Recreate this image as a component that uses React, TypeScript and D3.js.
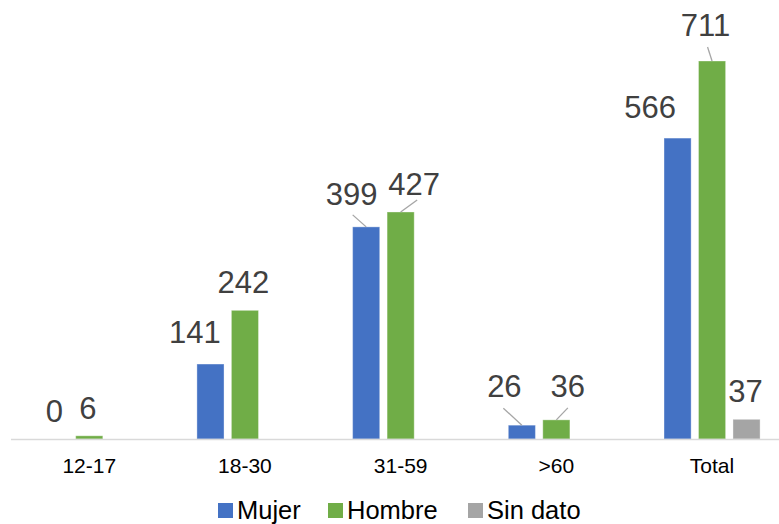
import React from "react";
import * as d3 from "d3";

const categories = ["12-17", "18-30", "31-59", ">60", "Total"];
const seriesNames = ["Mujer", "Hombre", "Sin dato"];
const mujer: (number | null)[] = [0, 141, 399, 26, 566];
const hombre: (number | null)[] = [6, 242, 427, 36, 711];
const sinDato: (number | null)[] = [null, null, null, null, 37];
const seriesValues = [mujer, hombre, sinDato];
const colors = ["#4472C4", "#70AD47", "#A5A5A5"];

// label placement (manually dragged labels in the original): [dx, dy] from bar top center
const labelOffsets: [number, number][][] = [
  [[-0.5, -17], [-15.5, -21], [-14.5, -22], [-17.5, -28], [-27.5, -20]],
  [[-1.5, -17], [-1.5, -17], [13.5, -17], [11.5, -23], [-6.5, -25]],
  [[0, 0], [0, 0], [0, 0], [0, 0], [-1, -17]],
];
// leader lines: start offset from label anchor (center x, baseline), or null
const leaders: ([number, number] | null)[][] = [
  [null, null, [1, 10], [-1, 11], null],
  [null, null, [3, 5], [0, 11], [2, 11]],
  [null, null, null, null, null],
];

const W = 779;
const H = 524;
const baseline = 439;

export default function App() {
  const x0 = d3
    .scaleBand<string>()
    .domain(categories)
    .range([11.4, 789.9])
    .paddingInner(0.383)
    .paddingOuter(0.1915);
  const x1 = d3
    .scaleBand<string>()
    .domain(seriesNames)
    .range([0, x0.bandwidth()])
    .paddingInner(0.214)
    .paddingOuter(0);
  const y = d3
    .scaleLinear()
    .domain([0, 800])
    .range([baseline, baseline - 800 * (378 / 711)]);

  const font = "'Liberation Sans', Arial, sans-serif";

  const bars: React.ReactNode[] = [];
  const labels: React.ReactNode[] = [];
  seriesValues.forEach((vals, si) => {
    vals.forEach((v, ci) => {
      if (v === null) return;
      const bx = (x0(categories[ci]) ?? 0) + (x1(seriesNames[si]) ?? 0);
      const bw = x1.bandwidth();
      const top = y(v);
      if (v > 0) {
        bars.push(
          <rect
            key={`b${si}-${ci}`}
            x={bx}
            y={top}
            width={bw}
            height={baseline - top}
            fill={colors[si]}
            stroke="#ffffff"
            strokeOpacity={0.35}
            strokeWidth={1}
          />
        );
      }
      const [dx, dy] = labelOffsets[si][ci];
      const cx = bx + bw / 2;
      const lx = cx + dx;
      const ly = top + dy;
      const ld = leaders[si][ci];
      if (ld) {
        labels.push(
          <line
            key={`l${si}-${ci}`}
            x1={lx + ld[0]}
            y1={ly + ld[1]}
            x2={cx}
            y2={top}
            stroke="#A6A6A6"
            strokeWidth={1.3}
          />
        );
      }
      labels.push(
        <text
          key={`t${si}-${ci}`}
          x={lx}
          y={ly}
          textAnchor="middle"
          fontSize={31}
          fill="#404040"
          fontFamily={font}
        >
          {v}
        </text>
      );
    });
  });

  const legendItems = [
    { name: seriesNames[0], sx: 218, tx: 237 },
    { name: seriesNames[1], sx: 328, tx: 347 },
    { name: seriesNames[2], sx: 468, tx: 487 },
  ];

  return (
    <svg
      width={W}
      height={H}
      style={{ position: "absolute", left: 0, top: 0, background: "#fff" }}
    >
      <rect x={0} y={0} width={W} height={H} fill="#ffffff" />
      {bars}
      <line x1={11} x2={W} y1={baseline + 0.5} y2={baseline + 0.5} stroke="#D9D9D9" strokeWidth={1.5} />
      {categories.map((c) => (
        <text
          key={c}
          x={(x0(c) ?? 0) + x0.bandwidth() / 2}
          y={473}
          textAnchor="middle"
          fontSize={21}
          fill="#000000"
          fontFamily={font}
        >
          {c}
        </text>
      ))}
      {labels}
      {legendItems.map((it, i) => (
        <g key={it.name}>
          <rect x={it.sx} y={503} width={15} height={15} fill={colors[i]} />
          <text x={it.tx} y={518.5} fontSize={25.5} fill="#000000" fontFamily={font}>
            {it.name}
          </text>
        </g>
      ))}
    </svg>
  );
}
